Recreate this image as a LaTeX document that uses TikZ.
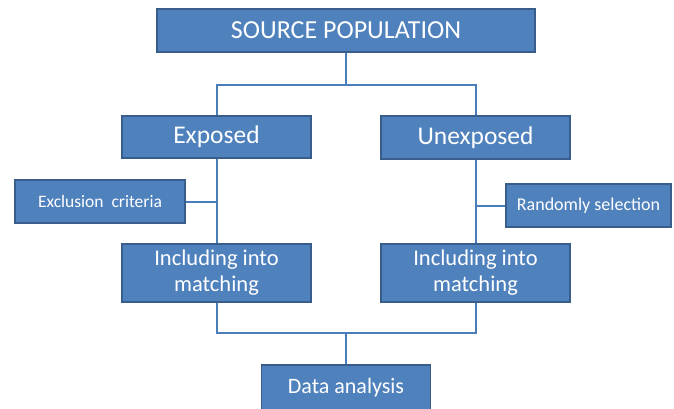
\documentclass[tikz,border=0pt]{standalone}
\usepackage{fontspec}
\setmainfont{Carlito}
\definecolor{boxfill}{HTML}{4F81BD}
\definecolor{boxdraw}{HTML}{385D8A}
\definecolor{linecol}{HTML}{4A7EBB}
\begin{document}
\begin{tikzpicture}[x=1pt,y=-1pt,
  box/.style={draw=boxdraw,fill=boxfill,line width=1.2pt,text=white,inner sep=0pt,align=center},
  conn/.style={draw=linecol,line width=2pt}]
\useasboundingbox (0,0) rectangle (674,408);
\node[box,minimum width=378pt,minimum height=43pt,font=\fontsize{26}{30}\selectfont] (src) at (346,30.5) {SOURCE POPULATION};
\node[box,minimum width=189pt,minimum height=42pt,font=\fontsize{25.5}{30}\selectfont] (exp) at (216.5,137) {Exposed};
\node[box,minimum width=189pt,minimum height=43pt,font=\fontsize{25.5}{30}\selectfont] (unexp) at (475.5,137.5) {Unexposed};
\node[box,minimum width=170pt,minimum height=43pt,font=\fontsize{17.5}{20}\selectfont] (excl) at (100,201.5) {Exclusion\ \ criteria};
\node[box,minimum width=165pt,minimum height=43pt,font=\fontsize{18}{21}\selectfont] (rand) at (588.5,205.5) {Randomly selection};
\node[box,minimum width=189pt,minimum height=58pt,font=\fontsize{22.5}{26}\selectfont] (incl) at (216.5,273) {Including into\\matching};
\node[box,minimum width=189pt,minimum height=58pt,font=\fontsize{22.5}{26}\selectfont] (incr) at (475.5,273) {Including into\\matching};
\node[box,minimum width=169pt,minimum height=46pt,font=\fontsize{22}{26}\selectfont] (data) at (346,388) {Data analysis};
\coordinate (top) at (346,85);
\coordinate (bot) at (346,333);
\draw[conn] (src.south) -- (top);
\draw[conn] (exp.north) |- (top) -| (unexp.north);
\draw[conn] (exp.south) -- (incl.north);
\draw[conn] (unexp.south) -- (incr.north);
\draw[conn] (excl.east) -- (excl.east -| exp.south);
\draw[conn] (rand.west) -- (rand.west -| unexp.south);
\draw[conn] (incl.south) |- (bot) -| (incr.south);
\draw[conn] (bot) -- (data.north);
\end{tikzpicture}
\end{document}
